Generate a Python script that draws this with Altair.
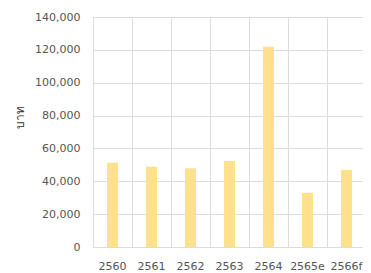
import altair as alt
import pandas as pd

years = ["2560", "2561", "2562", "2563", "2564", "2565e", "2566f"]
values = [51300, 48900, 47900, 52300, 121900, 33000, 46900]

df = pd.DataFrame({"year": years, "value": values})

chart = alt.Chart(df).mark_bar(color="#FFE08C", size=11).encode(
    x=alt.X("year:N", sort=years, title=None,
            scale=alt.Scale(paddingInner=0, paddingOuter=0),
            axis=alt.Axis(labelAngle=0, labelPadding=13, ticks=False, domain=False,
                          grid=True, gridColor="#dcdcdc", bandPosition=0,
                          labelFont="DejaVu Sans", labelFontSize=11, labelColor="#555555")),
    y=alt.Y("value:Q", title="บาท",
            scale=alt.Scale(domain=[0, 140000]),
            axis=alt.Axis(values=[0, 20000, 40000, 60000, 80000, 100000, 120000, 140000],
                          format=",.0f", labelPadding=13, ticks=False, domain=False,
                          gridColor="#dcdcdc",
                          labelFont="DejaVu Sans", labelFontSize=11, labelColor="#555555",
                          titleFont="DejaVu Sans", titleFontSize=12, titleColor="#333333",
                          titleFontWeight="normal", titleX=-74, titleY=100,
                          titleBaseline="middle", titleAlign="center")),
).properties(
    width=273, height=230,
    autosize=alt.AutoSizeParams(type="none"),
    padding={"left": 85, "top": 9, "right": -3, "bottom": 26},
).configure_view(
    fill="#f3f3f3", stroke="#e6e6e6"
).configure(background="white")

chart.save("out.html", embed_options={"renderer": "svg", "actions": False})
